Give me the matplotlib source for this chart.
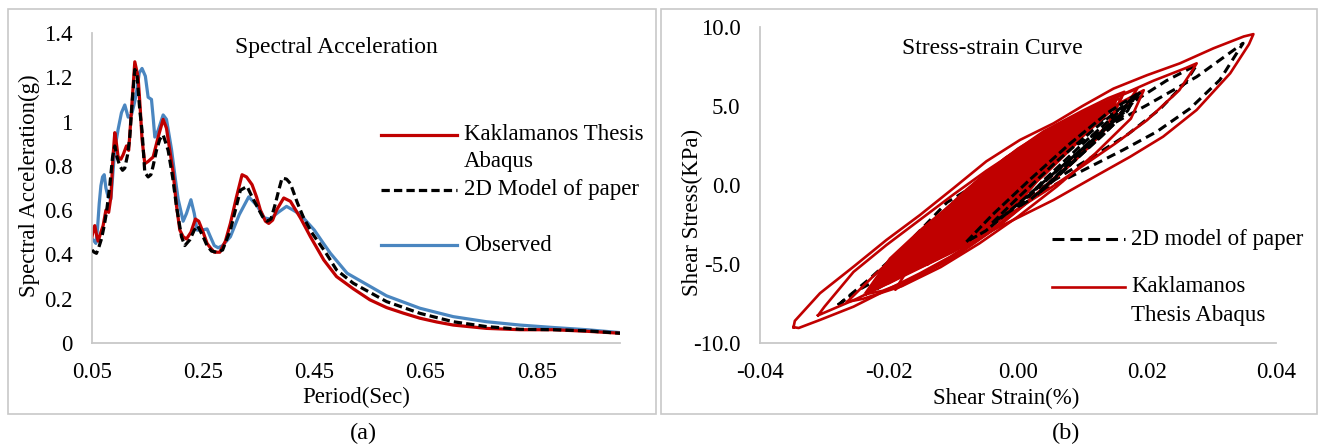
'''spectral acceleration and stress-strain comparison, two panels
'''
import matplotlib
matplotlib.use('Agg')
import matplotlib.pyplot as plt
from matplotlib.lines import Line2D
from matplotlib.patches import Rectangle

# ---- panel (a): spectral acceleration ----
period_kak = [0.050, 0.053, 0.055, 0.058, 0.061, 0.066, 0.070, 0.075, 0.080, 0.084,
              0.088, 0.091, 0.094, 0.097, 0.102, 0.106, 0.112, 0.116, 0.121, 0.127,
              0.133, 0.137, 0.140, 0.145, 0.151, 0.160, 0.169, 0.178, 0.184, 0.190,
              0.196, 0.202, 0.208, 0.214, 0.220, 0.228, 0.236, 0.242, 0.250, 0.257,
              0.263, 0.270, 0.280, 0.290, 0.299, 0.310, 0.320, 0.328, 0.338, 0.346,
              0.353, 0.362, 0.368, 0.375, 0.382, 0.395, 0.407, 0.425, 0.443, 0.467,
              0.490, 0.520, 0.550, 0.580, 0.610, 0.640, 0.670, 0.700, 0.760, 0.820,
              0.880, 0.940, 1.000]
sa_kak = [0.48, 0.52, 0.53, 0.49, 0.46, 0.50, 0.53, 0.60, 0.59, 0.66,
          0.85, 0.95, 0.90, 0.84, 0.83, 0.85, 0.89, 0.87, 1.05, 1.27,
          1.20, 1.05, 0.92, 0.81, 0.82, 0.84, 0.93, 1.01, 0.97, 0.87,
          0.77, 0.62, 0.51, 0.48, 0.47, 0.50, 0.56, 0.55, 0.50, 0.45,
          0.43, 0.41, 0.41, 0.46, 0.54, 0.66, 0.76, 0.75, 0.715, 0.66,
          0.60, 0.55, 0.54, 0.555, 0.60, 0.655, 0.64, 0.565, 0.48, 0.375,
          0.30, 0.245, 0.195, 0.16, 0.135, 0.112, 0.095, 0.081, 0.066, 0.06,
          0.06, 0.053, 0.044]

period_2d = [0.050, 0.054, 0.058, 0.062, 0.067, 0.072, 0.076, 0.082, 0.087, 0.091,
             0.095, 0.100, 0.105, 0.109, 0.114, 0.118, 0.122, 0.127, 0.131, 0.136,
             0.140, 0.145, 0.151, 0.156, 0.160, 0.166, 0.172, 0.178, 0.187, 0.195,
             0.202, 0.211, 0.217, 0.226, 0.234, 0.240, 0.250, 0.257, 0.265, 0.275,
             0.285, 0.299, 0.308, 0.317, 0.329, 0.338, 0.347, 0.357, 0.365, 0.372,
             0.380, 0.386, 0.392, 0.400, 0.407, 0.420, 0.430, 0.445, 0.470, 0.490,
             0.520, 0.580, 0.640, 0.700, 0.760, 0.820, 0.880, 0.940, 1.000]
sa_2d = [0.42, 0.41, 0.405, 0.43, 0.47, 0.53, 0.59, 0.71, 0.84, 0.89,
         0.84, 0.80, 0.78, 0.79, 0.85, 0.93, 1.08, 1.235, 1.21, 1.05,
         0.96, 0.77, 0.75, 0.76, 0.80, 0.87, 0.92, 0.94, 0.87, 0.75,
         0.617, 0.48, 0.44, 0.466, 0.51, 0.53, 0.48, 0.44, 0.415, 0.41,
         0.42, 0.51, 0.60, 0.69, 0.707, 0.66, 0.617, 0.57, 0.55, 0.56,
         0.63, 0.69, 0.745, 0.74, 0.72, 0.63, 0.57, 0.50, 0.41, 0.33,
         0.27, 0.187, 0.134, 0.096, 0.074, 0.062, 0.06, 0.055, 0.044]

period_obs = [0.050, 0.054, 0.057, 0.060, 0.063, 0.066, 0.069, 0.072, 0.075, 0.079,
              0.084, 0.088, 0.091, 0.097, 0.103, 0.109, 0.115, 0.121, 0.126, 0.130,
              0.135, 0.140, 0.146, 0.151, 0.157, 0.160, 0.163, 0.169, 0.178, 0.184,
              0.193, 0.200, 0.205, 0.214, 0.220, 0.228, 0.234, 0.239, 0.248, 0.257,
              0.263, 0.270, 0.277, 0.285, 0.299, 0.315, 0.332, 0.347, 0.360, 0.370,
              0.385, 0.400, 0.412, 0.425, 0.450, 0.465, 0.479, 0.509, 0.580, 0.640,
              0.700, 0.760, 0.820, 0.880, 0.940, 1.000]
sa_obs = [0.47, 0.46, 0.45, 0.52, 0.63, 0.71, 0.75, 0.76, 0.70, 0.66,
          0.65, 0.78, 0.875, 0.965, 1.04, 1.075, 1.02, 1.03, 1.08, 1.13,
          1.22, 1.24, 1.205, 1.11, 1.10, 1.02, 0.93, 0.96, 1.03, 1.01,
          0.875, 0.74, 0.65, 0.55, 0.585, 0.647, 0.585, 0.51, 0.51, 0.515,
          0.48, 0.44, 0.43, 0.44, 0.48, 0.58, 0.66, 0.62, 0.565, 0.56,
          0.59, 0.617, 0.60, 0.58, 0.51, 0.455, 0.405, 0.315, 0.213, 0.157,
          0.119, 0.096, 0.081, 0.07, 0.06, 0.047]

# ---- panel (b): stress-strain loops, (strain %, stress kPa) ----
red_loop_1 = [(-0.0348, -9.0), (-0.0346, -8.6), (-0.0307, -6.85), (-0.0255, -5.17), (-0.0204, -3.48),
              (-0.0152, -1.9), (-0.0100, -0.2), (-0.0049, 1.5), (0.0003, 2.85), (0.0055, 3.9),
              (0.0100, 5.0), (0.0148, 6.1), (0.0200, 6.95), (0.0251, 7.7), (0.0303, 8.65),
              (0.0350, 9.4), (0.0365, 9.55), (0.0358, 8.9), (0.0329, 7.07), (0.0277, 4.75),
              (0.0225, 3.06), (0.0174, 1.79), (0.0122, 0.6), (0.0055, -0.95), (-0.0049, -3.06),
              (-0.0105, -4.54), (-0.0152, -5.59), (-0.0204, -6.65), (-0.0255, -7.7), (-0.0307, -8.54),
              (-0.0340, -9.05), (-0.0348, -9.0)]
red_loop_2 = [(-0.0310, -8.25), (-0.0300, -7.7), (-0.0255, -5.5), (-0.0204, -3.8), (-0.0152, -2.2),
              (-0.0100, -0.6), (-0.0049, 0.9), (0.0003, 2.3), (0.0055, 3.6), (0.0107, 4.7),
              (0.0160, 5.7), (0.0210, 6.6), (0.0260, 7.4), (0.0277, 7.7), (0.0268, 7.1),
              (0.0250, 6.0), (0.0200, 4.1), (0.0150, 2.6), (0.0100, 1.2), (0.0050, -0.2),
              (0.0000, -1.5), (-0.0050, -2.8), (-0.0100, -4.0), (-0.0150, -5.1), (-0.0200, -6.2),
              (-0.0250, -7.2), (-0.0290, -7.9), (-0.0310, -8.25)]
red_loop_3 = [(-0.0215, -6.3), (-0.0180, -4.3), (-0.0120, -1.9), (-0.0060, 0.4), (0.0000, 2.3),
              (0.0060, 3.8), (0.0120, 5.0), (0.0185, 6.1), (0.0160, 4.6), (0.0110, 2.4),
              (0.0050, 0.1), (-0.0010, -1.9), (-0.0070, -3.6), (-0.0140, -5.0), (-0.0190, -5.9),
              (-0.0215, -6.3)]
red_loop_4 = [(-0.0190, -6.6), (-0.0150, -4.0), (-0.0100, -1.8), (-0.0040, 0.6), (0.0020, 2.6),
              (0.0080, 4.1), (0.0130, 5.1), (0.0160, 5.5), (0.0140, 3.9), (0.0090, 1.6),
              (0.0030, -0.6), (-0.0030, -2.6), (-0.0100, -4.5), (-0.0160, -5.9), (-0.0190, -6.6)]
red_loop_5 = [(-0.0140, -5.0), (-0.0110, -3.0), (-0.0060, -0.8), (0.0000, 1.6), (0.0060, 3.3),
              (0.0100, 4.3), (0.0120, 4.6), (0.0090, 2.6), (0.0040, 0.6), (-0.0020, -1.4),
              (-0.0080, -3.2), (-0.0120, -4.4), (-0.0140, -5.0)]
red_loop_6 = [(-0.0100, -3.8), (-0.0070, -1.8), (-0.0030, 0.2), (0.0020, 2.1), (0.0060, 3.2),
              (0.0080, 3.6), (0.0050, 1.8), (0.0000, -0.3), (-0.0050, -2.2), (-0.0090, -3.4),
              (-0.0100, -3.8)]
red_loop_7 = [(-0.0235, -6.9), (-0.0200, -5.0), (-0.0140, -2.6), (-0.0080, -0.3), (-0.0020, 1.7),
              (0.0040, 3.4), (0.0100, 4.7), (0.0140, 5.5), (0.0165, 5.9), (0.0140, 3.8),
              (0.0090, 1.7), (0.0030, -0.5), (-0.0030, -2.6), (-0.0100, -4.6), (-0.0160, -5.9),
              (-0.0210, -6.7), (-0.0235, -6.9)]
red_loop_8 = [(-0.0265, -7.4), (-0.0220, -5.6), (-0.0160, -3.4), (-0.0100, -1.3), (-0.0040, 0.6),
              (0.0020, 2.2), (0.0080, 3.6), (0.0140, 4.8), (0.0195, 6.0), (0.0175, 4.2),
              (0.0120, 2.0), (0.0060, -0.1), (0.0000, -2.0), (-0.0060, -3.7), (-0.0120, -5.2),
              (-0.0180, -6.4), (-0.0240, -7.2), (-0.0265, -7.4)]
red_loops = [red_loop_1, red_loop_2, red_loop_8, red_loop_7, red_loop_3, red_loop_4,
             red_loop_5, red_loop_6]

# densely overlapped middle part of the red loops
red_core = [(-0.0240, -6.9), (-0.0200, -4.6), (-0.0150, -2.7), (-0.0100, -1.0), (-0.0060, 0.4),
            (-0.0020, 1.8), (0.0020, 2.8), (0.0060, 3.7), (0.0100, 4.5), (0.0130, 5.1),
            (0.0155, 5.5), (0.0150, 4.8), (0.0120, 3.7), (0.0080, 2.2), (0.0040, 0.6),
            (0.0000, -1.3), (-0.0050, -3.0), (-0.0100, -4.3), (-0.0150, -5.3), (-0.0200, -6.3),
            (-0.0240, -6.9)]

black_loop_1 = [(-0.0279, -7.6), (-0.0229, -5.9), (-0.0178, -4.0), (-0.0110, -1.1), (-0.0050, 0.4),
                (0.0000, 1.2), (0.0050, 1.9), (0.0096, 2.64), (0.0148, 3.9), (0.0200, 5.06),
                (0.0241, 6.01), (0.0277, 6.85), (0.0313, 7.91), (0.0349, 8.97), (0.0340, 8.4),
                (0.0313, 6.65), (0.0267, 4.85), (0.0215, 3.37), (0.0163, 2.22), (0.0112, 1.16),
                (0.0050, -0.13), (0.0000, -1.2), (-0.0050, -2.3), (-0.0100, -3.4), (-0.0150, -4.5),
                (-0.0200, -5.6), (-0.0250, -6.7), (-0.0279, -7.6)]
black_loop_2 = [(-0.0220, -6.6), (-0.0180, -4.9), (-0.0120, -2.7), (-0.0060, -0.7), (0.0000, 0.9),
                (0.0060, 2.4), (0.0120, 3.9), (0.0180, 5.3), (0.0230, 6.6), (0.0277, 7.6),
                (0.0260, 6.5), (0.0220, 4.8), (0.0170, 3.2), (0.0120, 1.9), (0.0060, 0.4),
                (0.0000, -1.1), (-0.0060, -2.6), (-0.0120, -4.1), (-0.0170, -5.4), (-0.0220, -6.6)]
black_loop_3 = [(-0.0080, -3.6), (-0.0040, -1.9), (0.0020, 0.4), (0.0080, 2.6), (0.0140, 4.6),
                (0.0190, 5.9), (0.0170, 4.8), (0.0120, 3.0), (0.0060, 0.9), (0.0000, -1.2),
                (-0.0050, -2.9), (-0.0080, -3.6)]
black_loop_4 = [(-0.0040, -2.4), (0.0000, -0.8), (0.0060, 1.5), (0.0120, 3.6), (0.0175, 5.4),
                (0.0160, 4.5), (0.0110, 2.7), (0.0050, 0.5), (-0.0010, -1.6), (-0.0040, -2.4)]
black_loop_5 = [(0.0000, -1.4), (0.0040, 0.3), (0.0100, 2.6), (0.0150, 4.4), (0.0180, 5.5),
                (0.0170, 4.7), (0.0130, 3.1), (0.0070, 0.9), (0.0020, -0.9), (0.0000, -1.4)]
black_loop_6 = [(0.0030, -0.6), (0.0080, 1.4), (0.0130, 3.4), (0.0165, 4.8), (0.0150, 3.9),
                (0.0100, 2.0), (0.0050, 0.1), (0.0030, -0.6)]
black_outer = [black_loop_1, black_loop_2]
black_inner = [black_loop_3, black_loop_4, black_loop_5, black_loop_6]

x_ticks_a = [0.05, 0.25, 0.45, 0.65, 0.85]
y_ticks_a = [0, 0.2, 0.4, 0.6, 0.8, 1, 1.2, 1.4]
y_labels_a = ['0', '0.2', '0.4', '0.6', '0.8', '1', '1.2', '1.4']
x_ticks_b = [-0.04, -0.02, 0.00, 0.02, 0.04]
y_ticks_b = [-10, -5, 0, 5, 10]

RED = '#C00000'
BLUE = '#4A86C0'
GRAY = '#C8C8C8'
W, H = 1322.0, 448.0
FS = 16.5

plt.rcParams['font.family'] = ['Liberation Serif', 'DejaVu Serif']


def fx(px):
    return px / W


def fy(py):
    return 1 - py / H


def style_axes(ax):
    for s in ['top', 'right']:
        ax.spines[s].set_visible(False)
    for s in ['left', 'bottom']:
        ax.spines[s].set_color(GRAY)
        ax.spines[s].set_linewidth(1.3)
    ax.tick_params(length=0, labelsize=FS, pad=14)
    ax.set_facecolor('none')


def legend_entry(fig, y_px, x0, x1, tx, text, **kw):
    fig.add_artist(Line2D([fx(x0), fx(x1)], [fy(y_px), fy(y_px)], transform=fig.transFigure, **kw))
    fig.text(fx(tx), fy(y_px), text, fontsize=FS, va='center', ha='left')


def draw_loops(ax, loops, **kw):
    for loop in loops:
        ax.plot([p[0] for p in loop], [p[1] for p in loop], **kw)


fig = plt.figure(figsize=(W / 100, H / 100), dpi=100)

# panel frames
fig.add_artist(Rectangle((fx(8), fy(414)), fx(656 - 8), (414 - 9) / H, transform=fig.transFigure,
                         fill=False, edgecolor=GRAY, linewidth=1.2))
fig.add_artist(Rectangle((fx(661), fy(414)), fx(1317 - 661), (414 - 9) / H, transform=fig.transFigure,
                         fill=False, edgecolor=GRAY, linewidth=1.2))

# ---- (a) ----
ax1 = fig.add_axes([fx(92), fy(343), fx(620 - 92), (343 - 33) / H])
ax1.plot(period_kak, sa_kak, color=RED, lw=2.3, zorder=2)
ax1.plot(period_2d, sa_2d, color='black', lw=2.3, linestyle=(0, (2.6, 1.3)), zorder=3)
ax1.plot(period_obs, sa_obs, color=BLUE, lw=2.3, zorder=1)
ax1.set_xlim(0.05, 1.0)
ax1.set_ylim(0, 1.4)
ax1.set_xticks(x_ticks_a)
ax1.set_xticklabels(['%.2f' % v for v in x_ticks_a])
ax1.set_yticks(y_ticks_a)
ax1.set_yticklabels(y_labels_a)
style_axes(ax1)

fig.text(fx(336), fy(48), 'Spectral Acceleration', fontsize=FS + 0.5, ha='center', va='center')
fig.text(fx(29), fy(186), 'Spectral Acceleration(g)', fontsize=FS, ha='center', va='center', rotation=90)
fig.text(fx(356), fy(397), 'Period(Sec)', fontsize=FS, ha='center', va='center')
fig.text(fx(363), fy(433), '(a)', fontsize=FS + 1, ha='center', va='center')

legend_entry(fig, 135, 381, 457, 464, 'Kaklamanos Thesis', color=RED, lw=2.3)
fig.text(fx(464), fy(162), 'Abaqus', fontsize=FS, va='center', ha='left')
legend_entry(fig, 190, 381, 457, 464, '2D Model of paper', color='black', lw=2.3, linestyle=(0, (2.6, 1.3)))
legend_entry(fig, 245, 381, 457, 464, 'Observed', color=BLUE, lw=2.3)

# ---- (b) ----
ax2 = fig.add_axes([fx(760), fy(343), fx(1276 - 760), (343 - 27) / H])
draw_loops(ax2, black_outer, color='black', lw=2.2, linestyle=(0, (3.0, 1.8)), zorder=2)
ax2.fill([p[0] for p in red_core], [p[1] for p in red_core], color=RED, lw=0, zorder=3)
draw_loops(ax2, red_loops, color=RED, lw=1.9, zorder=3)
draw_loops(ax2, black_inner, color='black', lw=2.2, linestyle=(0, (3.0, 1.2)), zorder=4)
ax2.set_xlim(-0.04, 0.04)
ax2.set_ylim(-10, 10)
ax2.set_xticks(x_ticks_b)
ax2.set_xticklabels(['%.2f' % v for v in x_ticks_b])
ax2.set_yticks(y_ticks_b)
ax2.set_yticklabels(['%.1f' % v for v in y_ticks_b])
style_axes(ax2)

fig.text(fx(992), fy(48), 'Stress-strain Curve', fontsize=FS + 0.5, ha='center', va='center')
fig.text(fx(692), fy(212), 'Shear Stress(KPa)', fontsize=FS, ha='center', va='center', rotation=90)
fig.text(fx(1006), fy(398), 'Shear Strain(%)', fontsize=FS, ha='center', va='center')
fig.text(fx(1066), fy(433), '(b)', fontsize=FS + 1, ha='center', va='center')

legend_entry(fig, 239, 1052, 1125, 1131, '2D model of paper', color='black', lw=2.2,
             linestyle=(0, (3.9, 1.95)))
legend_entry(fig, 287, 1052, 1125, 1131, 'Kaklamanos', color=RED, lw=1.9)
fig.text(fx(1131), fy(315), 'Thesis Abaqus', fontsize=FS, va='center', ha='left')

plt.savefig('out.png', dpi=100)
